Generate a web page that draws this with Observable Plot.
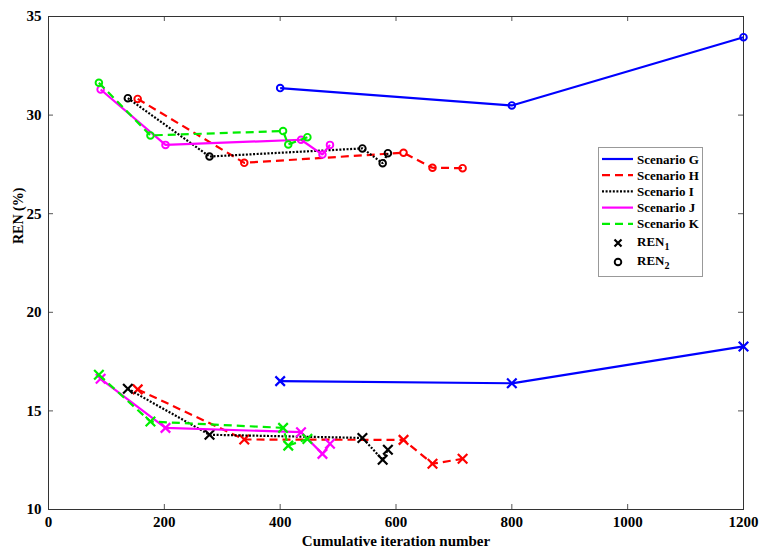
<!DOCTYPE html>
<html>
<head>
<meta charset="utf-8">
<script src="https://cdn.jsdelivr.net/npm/d3@7"></script>
<script src="https://cdn.jsdelivr.net/npm/@observablehq/plot@0.6"></script>
<style>
  html, body { margin: 0; padding: 0; background: #fff; }
  #wrap { position: relative; width: 767px; height: 559px; }
  #legend { position: absolute; left: 598px; top: 147px; }
</style>
</head>
<body>
<div id="wrap"></div>
<script>
// ---- data ----
const xTicks = [0, 200, 400, 600, 800, 1000, 1200];
const yTicks = [10, 15, 20, 25, 30, 35];
const xLabel = "Cumulative iteration number";
const yLabel = "REN (%)";

const scenarios = ["Scenario G", "Scenario H", "Scenario I", "Scenario J", "Scenario K"];
const colors = ["#0000ff", "#ff0000", "#000000", "#ff00ff", "#00ee00"];
const dashes = [null, "8,5", "2,1.6", null, "8,5"];

const iterG = [400, 800, 1200];
const ren1G = [16.51, 16.40, 18.27];
const ren2G = [31.37, 30.49, 33.95];

const iterH = [154, 338, 613, 663, 715];
const ren1H = [16.09, 13.55, 13.53, 12.32, 12.57];
const ren2H = [30.82, 27.58, 28.09, 27.33, 27.31];

const iterI = [137, 278, 542, 577, 586];
const ren1I = [16.12, 13.79, 13.63, 12.52, 13.03];
const ren2I = [30.86, 27.90, 28.31, 27.56, 28.07];

const iterJ = [90, 202, 436, 473, 486];
const ren1J = [16.63, 14.14, 13.92, 12.82, 13.33];
const ren2J = [31.30, 28.49, 28.75, 28.00, 28.49];

const iterK = [87, 176, 405, 414, 447];
const ren1K = [16.83, 14.46, 14.14, 13.24, 13.58];
const ren2K = [31.64, 28.97, 29.19, 28.51, 28.88];

const iters = [iterG, iterH, iterI, iterJ, iterK];
const ren1s = [ren1G, ren1H, ren1I, ren1J, ren1K];
const ren2s = [ren2G, ren2H, ren2I, ren2J, ren2K];

// ---- build tables ----
const marks = [];
scenarios.forEach((s, i) => {
  const r1 = iters[i].map((x, j) => ({x, y: ren1s[i][j]}));
  const r2 = iters[i].map((x, j) => ({x, y: ren2s[i][j]}));
  const lineOpts = {x: "x", y: "y", stroke: colors[i], strokeWidth: 2.2, strokeLinecap: "butt", strokeLinejoin: "miter",
    strokeDasharray: dashes[i] || undefined};
  marks.push(Plot.line(r1, lineOpts));
  marks.push(Plot.line(r2, lineOpts));
  marks.push(Plot.dot(r1, {x: "x", y: "y", symbol: "times", r: 4.4, stroke: colors[i], strokeWidth: 2.2}));
  marks.push(Plot.dot(r2, {x: "x", y: "y", symbol: "circle", r: 3.3, stroke: colors[i], strokeWidth: 1.9, fill: "none"}));
});

const W = 767, H = 559, mL = 48, mR = 24, mT = 16, mB = 50;
const fw = W - mL - mR, fh = H - mT - mB, tk = 5;
const chart = Plot.plot({
  width: W,
  height: H,
  marginLeft: mL,
  marginRight: mR,
  marginTop: mT,
  marginBottom: mB,
  x: {domain: [0, 1200]},
  y: {domain: [10, 35]},
  style: {fontFamily: "'Liberation Serif', 'Times New Roman', serif", fontWeight: "bold", fontSize: "15px", color: "#000", background: "#fff"},
  marks: [
    Plot.axisX({ticks: xTicks, tickSize: 0, tickPadding: 7, tickFormat: d3.format("d"), label: null}),
    Plot.axisY({ticks: yTicks, tickSize: 0, tickPadding: 7, tickFormat: d3.format("d"), label: null}),
    // inward tick marks on all four sides
    Plot.ruleX(xTicks, {x: d => d, insetTop: fh - tk, stroke: "#555", strokeWidth: 1}),
    Plot.ruleX(xTicks, {x: d => d, insetBottom: fh - tk, stroke: "#555", strokeWidth: 1}),
    Plot.ruleY(yTicks, {y: d => d, insetRight: fw - tk, stroke: "#555", strokeWidth: 1}),
    Plot.ruleY(yTicks, {y: d => d, insetLeft: fw - tk, stroke: "#555", strokeWidth: 1}),
    Plot.frame({stroke: "#333"}),
    ...marks,
    Plot.text([xLabel], {frameAnchor: "bottom", dy: 36, fontSize: 15, fontWeight: "bold", fill: "#000"}),
    Plot.text([yLabel], {frameAnchor: "left", rotate: -90, dx: -30, dy: -19, fontSize: 14, fontWeight: "bold", fill: "#000"})
  ]
});
document.getElementById("wrap").appendChild(chart);

// ---- legend (overlay inside the plot area) ----
const lw = 105, lh = 130;
const leg = d3.select("#wrap").append("svg").attr("id", "legend")
  .attr("width", lw).attr("height", lh)
  .style("font-family", "'Liberation Serif', 'Times New Roman', serif")
  .style("font-weight", "bold").style("font-size", "13px");
leg.append("rect").attr("x", 0.5).attr("y", 0.5).attr("width", lw - 1).attr("height", lh - 1)
  .attr("fill", "#fff").attr("stroke", "#999");
scenarios.forEach((s, i) => {
  const y = 12 + i * 16.2;
  leg.append("line").attr("x1", 4).attr("x2", 35).attr("y1", y).attr("y2", y)
    .attr("stroke", colors[i]).attr("stroke-width", 2.2)
    .attr("stroke-dasharray", dashes[i] || null);
  leg.append("text").attr("x", 39).attr("y", y).attr("dy", "0.35em").text(s);
});
const symRows = [{label: "REN", sub: "1", y: 96}, {label: "REN", sub: "2", y: 115}];
leg.append("path").attr("d", "M16.5,92.5 l7,7 M23.5,92.5 l-7,7").attr("stroke", "#000").attr("stroke-width", 2.2);
leg.append("circle").attr("cx", 20).attr("cy", 115).attr("r", 3.3).attr("fill", "none").attr("stroke", "#000").attr("stroke-width", 1.9);
symRows.forEach(r => {
  const t = leg.append("text").attr("x", 39).attr("y", r.y).attr("dy", "0.2em");
  t.append("tspan").text(r.label);
  t.append("tspan").attr("dy", "0.45em").attr("font-size", "10px").text(r.sub);
});
</script>
</body>
</html>
